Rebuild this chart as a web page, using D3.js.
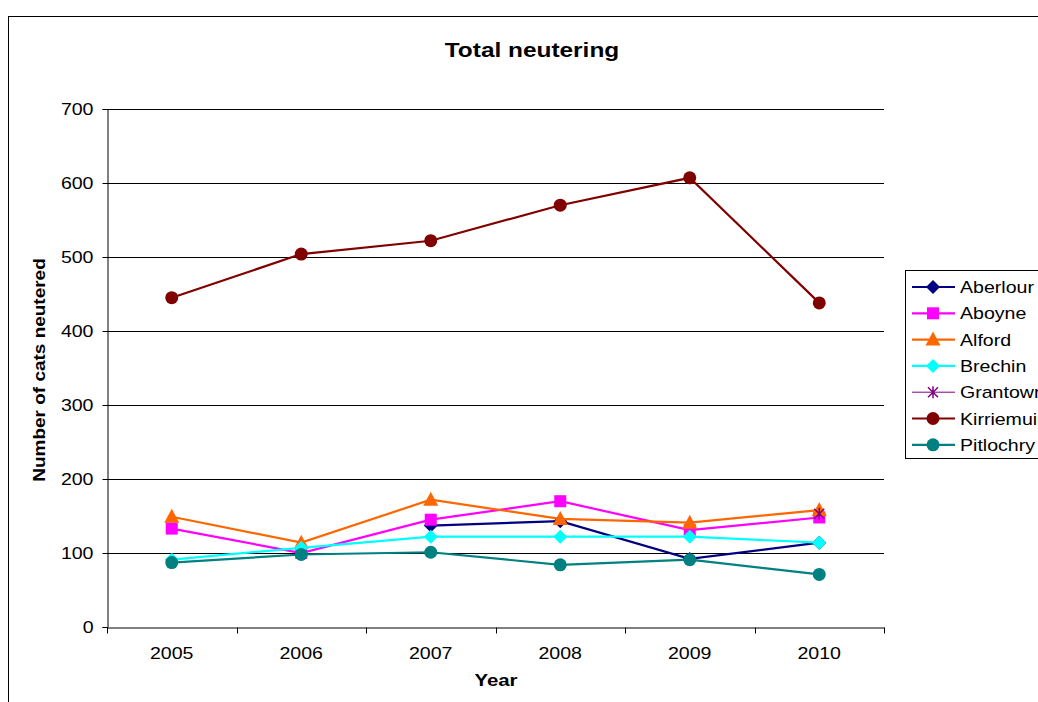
<!DOCTYPE html>
<html>
<head>
<meta charset="utf-8">
<script src="https://cdnjs.cloudflare.com/ajax/libs/d3/7.8.5/d3.min.js"></script>
<style>
  body { margin: 0; background: #fff; }
  #chart { width: 1038px; height: 702px; }
</style>
</head>
<body>
<div id="chart"></div>
<script>
// data
var years = ["2005", "2006", "2007", "2008", "2009", "2010"];
var yTicks = [0, 100, 200, 300, 400, 500, 600, 700];
var seriesNames = ["Aberlour", "Aboyne", "Alford", "Brechin", "Grantown", "Kirriemuir", "Pitlochry"];
var aberlour   = [null, null, 137, 143, 92, 114];
var aboyne     = [133, 100, 145, 170, 131, 148];
var alford     = [149, 114, 172, 146, 141, 158];
var brechin    = [91, 107, 122, 122, 122, 114];
var grantown   = [null, null, null, null, null, 153];
var kirriemuir = [445, 504, 522, 570, 607, 438];
var pitlochry  = [87, 98, 101, 84, 91, 71];

var allValues = [aberlour, aboyne, alford, brechin, grantown, kirriemuir, pitlochry];
var colors = ["#000080", "#FF00FF", "#FF6600", "#00FFFF", "#800080", "#800000", "#008080"];
var shapes = ["diamond", "square", "triangle", "diamond", "star", "circle", "circle"];

var width = 1038,
    height = 702,
    marginLeft = 107,
    marginTop = 109,
    chartWidth = 777,
    chartHeight = 518,
    stretch = 1.15; // the original text is a bit wide

var fontFam = 'Arial, "Liberation Sans", sans-serif';

// widen text a little to match the original
function widen(sel, f) {
    sel.each(function() {
        var len = this.getComputedTextLength();
        d3.select(this)
            .attr('textLength', len * f)
            .attr('lengthAdjust', 'spacingAndGlyphs');
    });
}

var svg = d3.select('#chart')
    .append('svg')
      .attr('width', width)
      .attr('height', height)
      .style('font-family', fontFam);

// outer frame (runs off the right and bottom)
svg.append('rect')
    .attr('x', 8.5)
    .attr('y', 16.5)
    .attr('width', 1200)
    .attr('height', 900)
    .style('fill', 'none')
    .style('stroke', '#000')
    .style('stroke-width', 1);

var chartArea = svg.append('g')
    .attr('transform', 'translate(' + marginLeft + ',' + marginTop + ')');

var xScale = d3.scaleBand()
    .domain(years)
    .range([0, chartWidth]);

var yScale = d3.scaleLinear()
    .domain([0, 700])
    .range([chartHeight, 0]);

//grid lines
chartArea.append('g')
    .selectAll('line').data(yTicks.slice(1)).enter()
      .append('line')
        .attr('x1', 0)
        .attr('x2', chartWidth)
        .attr('y1', function(d){ return Math.round(yScale(d)) + 0.5; })
        .attr('y2', function(d){ return Math.round(yScale(d)) + 0.5; })
        .style('stroke', '#000')
        .style('stroke-width', 1);

//y axis
var yAxis = chartArea.append('g')
    .attr('transform', 'translate(0.5,0)')
    .call(d3.axisLeft(yScale).tickValues(yTicks).tickSize(5).tickPadding(9));
yAxis.selectAll('text').style('font-size', '17px').style('fill', '#000').style('font-family', fontFam);
widen(yAxis.selectAll('text'), stretch);

//x axis, ticks sit on band edges
var xAxis = chartArea.append('g')
    .attr('transform', 'translate(0,' + (chartHeight + 0.5) + ')')
    .call(d3.axisBottom(xScale).tickSize(0).tickPadding(19));
xAxis.selectAll('text').style('font-size', '17px').style('fill', '#000').style('font-family', fontFam);
widen(xAxis.selectAll('text'), stretch);
xAxis.selectAll('.tick line').remove();
xAxis.append('g')
    .selectAll('line').data(d3.range(years.length + 1)).enter()
      .append('line')
        .attr('x1', function(d){ return Math.round(d * xScale.step()) + 0.5; })
        .attr('x2', function(d){ return Math.round(d * xScale.step()) + 0.5; })
        .attr('y1', 0)
        .attr('y2', 6)
        .style('stroke', '#000');

svg.selectAll('.domain').style('stroke', '#000');

//titles
var title = svg.append('text')
    .attr('x', 532)
    .attr('y', 57)
    .style('font-size', '20px')
    .style('font-weight', 'bold')
    .style('text-anchor', 'middle')
    .text('Total neutering');
widen(title, 1.22);

var xTitle = svg.append('text')
    .attr('x', 496)
    .attr('y', 686)
    .style('font-size', '17px')
    .style('font-weight', 'bold')
    .style('text-anchor', 'middle')
    .text('Year');
widen(xTitle, 1.2);

var yTitle = svg.append('text')
    .attr('transform', 'translate(45,370) rotate(-90)')
    .style('font-size', '16.5px')
    .style('font-weight', 'bold')
    .style('text-anchor', 'middle')
    .text('Number of cats neutered');
widen(yTitle, stretch);

//marker drawer
function drawMarker(g, shape, color, cx, cy) {
    if (shape == 'circle') {
        g.append('circle').attr('cx', cx).attr('cy', cy).attr('r', 6.5).style('fill', color);
    } else if (shape == 'square') {
        g.append('rect').attr('x', cx - 6).attr('y', cy - 6).attr('width', 12).attr('height', 12).style('fill', color);
    } else if (shape == 'diamond') {
        g.append('path').attr('d', 'M' + cx + ',' + (cy - 7) + 'L' + (cx + 7) + ',' + cy + 'L' + cx + ',' + (cy + 7) + 'L' + (cx - 7) + ',' + cy + 'Z').style('fill', color);
    } else if (shape == 'triangle') {
        g.append('path').attr('d', 'M' + cx + ',' + (cy - 8) + 'L' + (cx + 7.5) + ',' + (cy + 6) + 'L' + (cx - 7.5) + ',' + (cy + 6) + 'Z').style('fill', color);
    } else if (shape == 'star') {
        var s = 5;
        var p = 'M' + (cx - s) + ',' + (cy - s) + 'L' + (cx + s) + ',' + (cy + s) +
                'M' + (cx - s) + ',' + (cy + s) + 'L' + (cx + s) + ',' + (cy - s) +
                'M' + cx + ',' + (cy - s - 1) + 'L' + cx + ',' + (cy + s + 1);
        g.append('path').attr('d', p).style('stroke', color).style('stroke-width', 1.5).style('fill', 'none');
    }
}

var line = d3.line()
    .defined(function(d){ return d != null; })
    .x(function(d, i){ return xScale(years[i]) + xScale.bandwidth() / 2; })
    .y(function(d){ return yScale(d); });

//series lines and markers
allValues.forEach(function(vals, k) {
    var g = chartArea.append('g');
    g.append('path')
        .attr('d', line(vals))
        .style('fill', 'none')
        .style('stroke', colors[k])
        .style('stroke-width', shapes[k] == 'star' ? 1 : 2.2);
    vals.forEach(function(v, i) {
        if (v == null) return;
        drawMarker(g, shapes[k], colors[k], xScale(years[i]) + xScale.bandwidth() / 2, yScale(v));
    });
});

//legend
var legend = svg.append('g').attr('transform', 'translate(905,270)');
legend.append('rect')
    .attr('x', 0.5)
    .attr('y', 0.5)
    .attr('width', 200)
    .attr('height', 188)
    .style('fill', '#fff')
    .style('stroke', '#000');

seriesNames.forEach(function(name, k) {
    var y = 17 + k * 26.3;
    legend.append('line')
        .attr('x1', 7)
        .attr('x2', 50)
        .attr('y1', y)
        .attr('y2', y)
        .style('stroke', colors[k])
        .style('stroke-width', shapes[k] == 'star' ? 1 : 2.2);
    drawMarker(legend, shapes[k], colors[k], 28, y);
    var t = legend.append('text')
        .attr('x', 55)
        .attr('y', y + 6)
        .style('font-size', '17px')
        .text(name);
    widen(t, stretch);
});
</script>
</body>
</html>
